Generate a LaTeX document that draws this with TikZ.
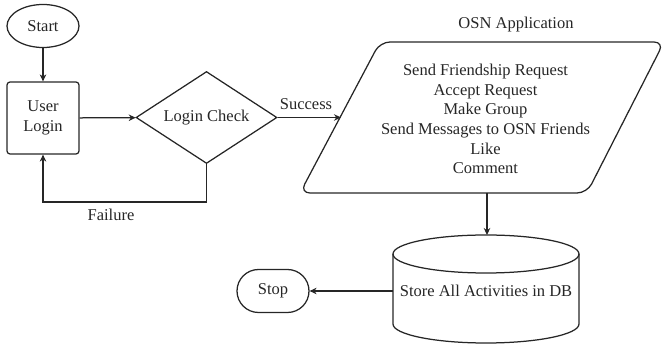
\documentclass[tikz,border=0pt]{standalone}
\usepackage{fontspec}
\setmainfont{Liberation Serif}
\usetikzlibrary{shapes.geometric,shapes.misc,arrows.meta}
\begin{document}
\begin{tikzpicture}[x=1pt,y=-1pt,
  every node/.style={font=\rmfamily\fontsize{16.5}{19.7}\selectfont, inner sep=0pt, text=black!85},
  ln/.style={line width=1.25pt, draw=black!85},
  arr/.style={ln, -{Stealth[length=7pt,width=6.5pt]}},
  startbox/.style={ln, ellipse, minimum width=72pt, minimum height=43pt},
  procbox/.style={ln, rectangle, rounded corners=3pt, minimum width=72pt, minimum height=72pt, align=center},
  decbox/.style={ln, diamond, aspect=1.53, minimum width=141pt, minimum height=92pt},
  stopbox/.style={ln, rounded rectangle, minimum width=72pt, minimum height=43pt},
  lbl/.style={}
]
\useasboundingbox (0,0) rectangle (662,344);

\node[startbox] (start) at (43,26) {Start};
\node[procbox] (user) at (43,118) {User\\Login};
\node[decbox] (check) at (206.5,117.5) {Login Check};

% OSN parallelogram
\coordinate (tl) at (380,42);
\coordinate (tr) at (664,42);
\coordinate (br) at (587,193);
\coordinate (bl) at (300,193);
\draw[ln, rounded corners=10pt] (tl) -- (tr) -- (br) -- (bl) -- cycle;
\node[align=center] (osn) at (485.5,119) {Send Friendship Request\\Accept Request\\Make Group\\Send Messages to OSN Friends\\Like\\Comment};
\node[lbl] (osntitle) at (516,25) {OSN Application};
\coordinate (osnl) at (341,117.5);
\coordinate (osnb) at (487,193);

% DB cylinder
\draw[ln] (486,254) ellipse [x radius=93pt, y radius=19pt];
\draw[ln] (393,254) -- (393,324) arc[start angle=180, end angle=360, x radius=93pt, y radius=19pt] -- (579,254);
\node (db) at (486,291) {Store All Activities in DB};
\coordinate (dbt) at (487,235);
\coordinate (dbl) at (393,291);

\node[stopbox] (stop) at (273,291) {Stop};

% connectors
\draw[arr] (start) -- (user);
\draw[arr] (user) -- (check);
\draw[arr] (check.east) -- (osnl);
\node[lbl] (success) at (306,104) {Success};
\coordinate (fb) at (0,202);
\draw[arr] (check.south) -- (check.south |- fb) -| (user.south);
\node[lbl] (failure) at (111,215) {Failure};
\draw[arr] (osnb) -- (dbt);
\draw[arr] (dbl) -- (stop.east);
\end{tikzpicture}
\end{document}
